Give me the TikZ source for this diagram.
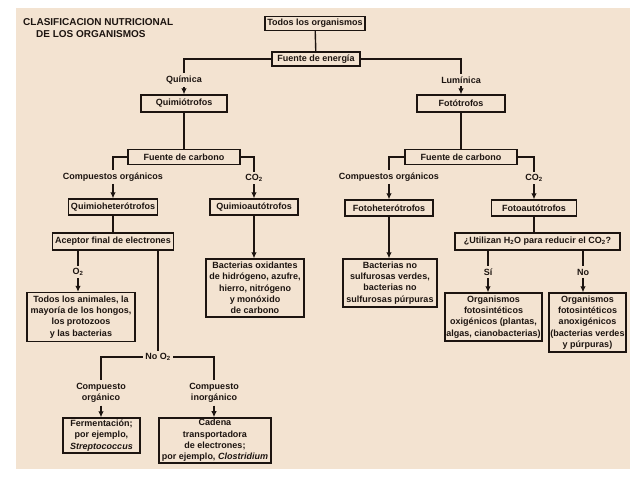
\documentclass[tikz,border=0pt]{standalone}
\usepackage{fontspec}
\setmainfont{Liberation Sans}
\usetikzlibrary{arrows.meta}
\definecolor{papel}{RGB}{243,227,209}
\definecolor{tinta}{RGB}{28,20,16}
\tikzset{
  caja/.style={draw=tinta, line width=1.3pt, align=center, inner sep=1.5pt,
    text=tinta, font=\fontsize{9}{11.3}\selectfont\bfseries},
  rotulo/.style={align=center, inner sep=2.5pt, text=tinta,
    font=\fontsize{9}{11.5}\selectfont\bfseries},
  linea/.style={draw=tinta, line width=1.4pt},
  flecha/.style={linea, -{Latex[length=6pt,width=5.5pt]}}
}
\begin{document}
\begin{tikzpicture}[x=1pt,y=-1pt]
\fill[white] (0,0) rectangle (638,479);
\useasboundingbox (0,0) rectangle (638,479);
\fill[papel] (16,8) rectangle (630,469);

\node[anchor=north west, align=left, inner sep=0pt, text=tinta,
  font=\fontsize{10}{12}\selectfont\bfseries] (titulo) at (23,18.5)
  {CLASIFICACION NUTRICIONAL\\\hspace*{13pt}DE LOS ORGANISMOS};

% cajas
\node[caja, minimum width=100, minimum height=14] (todos) at (315,23.5) {Todos los organismos};
\node[caja, minimum width=88, minimum height=14] (energia) at (316,59) {Fuente de energía};
\node[caja, minimum width=86, minimum height=17] (quimio) at (184,103.5) {Quimiótrofos};
\node[caja, minimum width=88, minimum height=17] (foto) at (461,103.5) {Fotótrofos};
\node[caja, minimum width=112, minimum height=15] (carbq) at (184,157) {Fuente de carbono};
\node[caja, minimum width=112, minimum height=15] (carbf) at (461,157) {Fuente de carbono};
\node[caja, minimum width=89, minimum height=16] (qhet) at (113,207) {Quimioheterótrofos};
\node[caja, minimum width=88, minimum height=16] (qaut) at (254,207) {Quimioautótrofos};
\node[caja, minimum width=88, minimum height=16] (fhet) at (389,208) {Fotoheterótrofos};
\node[caja, minimum width=85, minimum height=16] (faut) at (534,208) {Fotoautótrofos};
\node[caja, minimum width=121, minimum height=17] (aceptor) at (113,241.5) {Aceptor final de electrones};
\node[caja, minimum width=165, minimum height=17] (utilizan) at (537.5,241.5)
  {¿Utilizan H\textsubscript{2}O para reducir el CO\textsubscript{2}?};
\node[caja, minimum width=108, minimum height=49] (animales) at (81,317)
  {Todos los animales, la\\mayoría de los hongos,\\los protozoos\\y las bacterias};
\node[caja, minimum width=98, minimum height=58] (oxidantes) at (255,288)
  {Bacterias oxidantes\\de hidrógeno, azufre,\\hierro, nitrógeno\\y monóxido\\de carbono};
\node[caja, minimum width=94, minimum height=48] (nosulf) at (390,283)
  {Bacterias no\\sulfurosas verdes,\\bacterias no\\sulfurosas púrpuras};
\node[caja, minimum width=97, minimum height=48] (oxig) at (493.5,317)
  {Organismos\\fotosintéticos\\oxigénicos (plantas,\\algas, cianobacterias)};
\node[caja, minimum width=75, minimum height=59] (anoxig) at (587.5,322.5)
  {Organismos\\fotosintéticos\\anoxigénicos\\(bacterias verdes\\y púrpuras)};
\node[caja, minimum width=77, minimum height=35] (ferment) at (101.5,435.5)
  {Fermentación;\\por ejemplo,\\\textit{Streptococcus}};
\node[caja, minimum width=112, minimum height=45] (cadena) at (215,440.5)
  {Cadena\\transportadora\\de electrones;\\por ejemplo, \textit{Clostridium}};

% rotulos de las ramas
\node[rotulo] (quimica) at (184,80) {Química};
\node[rotulo] (luminica) at (461,80) {Lumínica};
\node[rotulo] (orgq) at (113,177) {Compuestos orgánicos};
\node[rotulo] (coq) at (254,178) {CO\textsubscript{2}};
\node[rotulo] (orgf) at (389,177) {Compuestos orgánicos};
\node[rotulo] (cof) at (534,178) {CO\textsubscript{2}};
\node[rotulo] (otwo) at (78,272) {O\textsubscript{2}};
\node[rotulo] (sinotwo) at (158,357) {No O\textsubscript{2}};
\node[rotulo] (cporg) at (101,393) {Compuesto\\orgánico};
\node[rotulo] (cpinorg) at (214,393) {Compuesto\\inorgánico};
\node[rotulo] (si) at (488,272) {Sí};
\node[rotulo] (no) at (583,272) {No};

% conectores
\draw[linea] (todos) -- (energia);
\draw[linea] (energia.west) -| (quimica.north);
\draw[linea] (energia.east) -| (luminica.north);
\draw[flecha] (quimica) -- (quimio);
\draw[flecha] (luminica) -- (foto);
\draw[linea] (quimio) -- (carbq);
\draw[linea] (foto) -- (carbf);
\draw[linea] (carbq.west) -| (orgq.north);
\draw[linea] (carbq.east) -| (coq.north);
\draw[linea] (carbf.west) -| (orgf.north);
\draw[linea] (carbf.east) -| (cof.north);
\draw[flecha] (orgq) -- (qhet);
\draw[flecha] (coq) -- (qaut);
\draw[flecha] (orgf) -- (fhet);
\draw[flecha] (cof) -- (faut);
\draw[linea] (qhet) -- (aceptor);
\draw[linea] (faut.south) -- (faut.south |- utilizan.north);
\draw[flecha] (qaut.south) -- (qaut.south |- oxidantes.north);
\draw[flecha] (fhet.south) -- (fhet.south |- nosulf.north);
\draw[linea] (aceptor.south -| otwo.north) -- (otwo.north);
\draw[flecha] (otwo.south) -- (otwo.south |- animales.north);
\draw[linea] (aceptor.south -| sinotwo.north) -- (sinotwo.north);
\draw[linea] (sinotwo.west) -| (cporg.north);
\draw[linea] (sinotwo.east) -| (cpinorg.north);
\draw[flecha] (cporg.south) -- (cporg.south |- ferment.north);
\draw[flecha] (cpinorg.south) -- (cpinorg.south |- cadena.north);
\draw[linea] (utilizan.south -| si.north) -- (si.north);
\draw[linea] (utilizan.south -| no.north) -- (no.north);
\draw[flecha] (si.south) -- (si.south |- oxig.north);
\draw[flecha] (no.south) -- (no.south |- anoxig.north);
\end{tikzpicture}
\end{document}
